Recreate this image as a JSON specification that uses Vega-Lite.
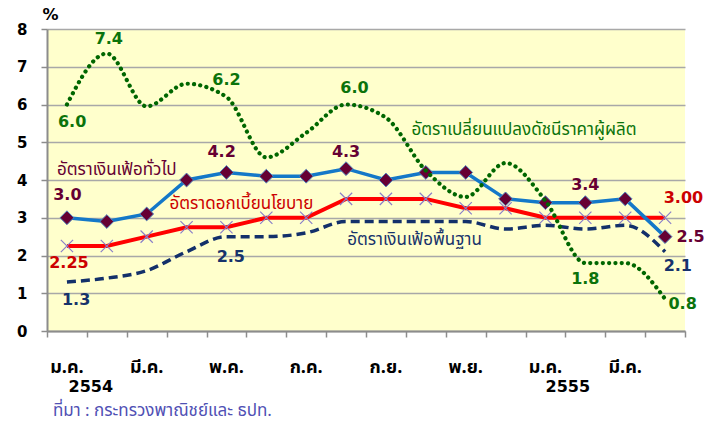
{
  "$schema": "https://vega.github.io/schema/vega-lite/v6.json",
  "width": 638,
  "height": 302,
  "autosize": "none",
  "padding": {"left": 47, "top": 29, "right": 30, "bottom": 94},
  "background": "white",
  "config": {
    "view": {"fill": "#FFFFCC", "stroke": null},
    "font": "DejaVu Sans"
  },
  "datasets": {
    "series": [
      {"m": 0, "s": "h", "v": 3.0}, {"m": 1, "s": "h", "v": 2.9}, {"m": 2, "s": "h", "v": 3.1}, {"m": 3, "s": "h", "v": 4.0},
      {"m": 4, "s": "h", "v": 4.2}, {"m": 5, "s": "h", "v": 4.1}, {"m": 6, "s": "h", "v": 4.1}, {"m": 7, "s": "h", "v": 4.3},
      {"m": 8, "s": "h", "v": 4.0}, {"m": 9, "s": "h", "v": 4.2}, {"m": 10, "s": "h", "v": 4.2}, {"m": 11, "s": "h", "v": 3.5},
      {"m": 12, "s": "h", "v": 3.4}, {"m": 13, "s": "h", "v": 3.4}, {"m": 14, "s": "h", "v": 3.5}, {"m": 15, "s": "h", "v": 2.5},
      {"m": 0, "s": "p", "v": 2.25}, {"m": 1, "s": "p", "v": 2.25}, {"m": 2, "s": "p", "v": 2.5}, {"m": 3, "s": "p", "v": 2.75},
      {"m": 4, "s": "p", "v": 2.75}, {"m": 5, "s": "p", "v": 3.0}, {"m": 6, "s": "p", "v": 3.0}, {"m": 7, "s": "p", "v": 3.5},
      {"m": 8, "s": "p", "v": 3.5}, {"m": 9, "s": "p", "v": 3.5}, {"m": 10, "s": "p", "v": 3.25}, {"m": 11, "s": "p", "v": 3.25},
      {"m": 12, "s": "p", "v": 3.0}, {"m": 13, "s": "p", "v": 3.0}, {"m": 14, "s": "p", "v": 3.0}, {"m": 15, "s": "p", "v": 3.0},
      {"m": 0, "s": "c", "v": 1.3}, {"m": 1, "s": "c", "v": 1.4}, {"m": 2, "s": "c", "v": 1.6}, {"m": 3, "s": "c", "v": 2.1},
      {"m": 4, "s": "c", "v": 2.5}, {"m": 5, "s": "c", "v": 2.5}, {"m": 6, "s": "c", "v": 2.6}, {"m": 7, "s": "c", "v": 2.9},
      {"m": 8, "s": "c", "v": 2.9}, {"m": 9, "s": "c", "v": 2.9}, {"m": 10, "s": "c", "v": 2.9}, {"m": 11, "s": "c", "v": 2.7},
      {"m": 12, "s": "c", "v": 2.8}, {"m": 13, "s": "c", "v": 2.7}, {"m": 14, "s": "c", "v": 2.8}, {"m": 15, "s": "c", "v": 2.1},
      {"m": 0, "s": "g", "v": 6.0}, {"m": 1, "s": "g", "v": 7.35}, {"m": 2, "s": "g", "v": 5.95}, {"m": 3, "s": "g", "v": 6.55},
      {"m": 4, "s": "g", "v": 6.2}, {"m": 5, "s": "g", "v": 4.6}, {"m": 6, "s": "g", "v": 5.25}, {"m": 7, "s": "g", "v": 6.0},
      {"m": 8, "s": "g", "v": 5.65}, {"m": 9, "s": "g", "v": 4.25}, {"m": 10, "s": "g", "v": 3.55}, {"m": 11, "s": "g", "v": 4.45},
      {"m": 12, "s": "g", "v": 3.45}, {"m": 13, "s": "g", "v": 1.8}, {"m": 14, "s": "g", "v": 1.8}, {"m": 15, "s": "g", "v": 0.85}
    ],
    "labels": [
      {"kind": "num", "s": "g", "m": 1.05, "v": 7.74, "text": "7.4"},
      {"kind": "num", "s": "g", "m": 0.13, "v": 5.54, "text": "6.0"},
      {"kind": "num", "s": "g", "m": 4.0, "v": 6.65, "text": "6.2"},
      {"kind": "num", "s": "g", "m": 7.21, "v": 6.43, "text": "6.0"},
      {"kind": "num", "s": "g", "m": 13.0, "v": 1.37, "text": "1.8"},
      {"kind": "num", "s": "g", "m": 15.44, "v": 0.72, "text": "0.8"},
      {"kind": "num", "s": "h", "m": 0.01, "v": 3.6, "text": "3.0"},
      {"kind": "num", "s": "h", "m": 3.88, "v": 4.75, "text": "4.2"},
      {"kind": "num", "s": "h", "m": 7.0, "v": 4.74, "text": "4.3"},
      {"kind": "num", "s": "h", "m": 13.0, "v": 3.87, "text": "3.4"},
      {"kind": "num", "s": "h", "m": 15.64, "v": 2.48, "text": "2.5"},
      {"kind": "num", "s": "p", "m": 0.05, "v": 1.79, "text": "2.25"},
      {"kind": "num", "s": "p", "m": 15.46, "v": 3.52, "text": "3.00"},
      {"kind": "num", "s": "c", "m": 0.23, "v": 0.82, "text": "1.3"},
      {"kind": "num", "s": "c", "m": 4.11, "v": 1.97, "text": "2.5"},
      {"kind": "num", "s": "c", "m": 15.32, "v": 1.72, "text": "2.1"},
      {"kind": "name", "s": "h", "m": -0.25, "v": 4.26, "text": "อัตราเงินเฟ้อทั่วไป"},
      {"kind": "name", "s": "p", "m": 2.57, "v": 3.36, "text": "อัตราดอกเบี้ยนโยบาย"},
      {"kind": "name", "s": "c", "m": 7.03, "v": 2.41, "text": "อัตราเงินเฟ้อพื้นฐาน"},
      {"kind": "name", "s": "g", "m": 8.64, "v": 5.32, "text": "อัตราเปลี่ยนแปลงดัชนีราคาผู้ผลิต"},
      {"kind": "month", "s": "k", "m": 0, "v": -0.98, "text": "ม.ค."},
      {"kind": "month", "s": "k", "m": 2, "v": -0.98, "text": "มี.ค."},
      {"kind": "month", "s": "k", "m": 4, "v": -0.98, "text": "พ.ค."},
      {"kind": "month", "s": "k", "m": 6, "v": -0.98, "text": "ก.ค."},
      {"kind": "month", "s": "k", "m": 8, "v": -0.98, "text": "ก.ย."},
      {"kind": "month", "s": "k", "m": 10, "v": -0.98, "text": "พ.ย."},
      {"kind": "month", "s": "k", "m": 12, "v": -0.98, "text": "ม.ค."},
      {"kind": "month", "s": "k", "m": 14, "v": -0.98, "text": "มี.ค."},
      {"kind": "year", "s": "k", "m": 0.6, "v": -1.48, "text": "2554"},
      {"kind": "year", "s": "k", "m": 12.56, "v": -1.48, "text": "2555"},
      {"kind": "pct", "s": "k", "m": -0.41, "v": 8.37, "text": "%"},
      {"kind": "src", "s": "src", "m": -0.35, "v": -2.12, "text": "ที่มา : กระทรวงพาณิชย์และ ธปท."}
    ]
  },
  "encoding": {
    "x": {
      "field": "m", "type": "quantitative",
      "scale": {"domain": [-0.5, 15.5], "nice": false, "zero": false},
      "axis": {
        "values": [-0.5, 0.5, 1.5, 2.5, 3.5, 4.5, 5.5, 6.5, 7.5, 8.5, 9.5, 10.5, 11.5, 12.5, 13.5, 14.5, 15.5],
        "labels": false, "grid": false, "title": null,
        "ticks": true, "tickSize": 6, "tickColor": "#8C8C8C", "tickWidth": 1.5,
        "domainColor": "#8C8C8C", "domainWidth": 2
      }
    },
    "y": {
      "field": "v", "type": "quantitative",
      "scale": {"domain": [0, 8], "nice": false, "zero": false},
      "axis": {
        "values": [0, 1, 2, 3, 4, 5, 6, 7, 8],
        "grid": true, "gridColor": "#A8A8A8", "gridWidth": 1.5, "title": null,
        "labelFont": "DejaVu Sans", "labelFontWeight": "bold", "labelFontSize": 15, "labelColor": "#000000",
        "labelPadding": 14,
        "ticks": true, "tickSize": 6, "tickColor": "#8C8C8C", "tickWidth": 1.5,
        "domainColor": "#8C8C8C", "domainWidth": 2
      }
    }
  },
  "layer": [
    {
      "data": {"name": "series"},
      "transform": [{"filter": "datum.s == 'c'"}],
      "mark": {"type": "line", "color": "#13306A", "strokeWidth": 3.5, "strokeDash": [9, 5], "interpolate": "monotone"}
    },
    {
      "data": {"name": "series"},
      "transform": [{"filter": "datum.s == 'p'"}],
      "mark": {"type": "line", "color": "#FF0000", "strokeWidth": 4}
    },
    {
      "data": {"name": "series"},
      "transform": [{"filter": "datum.s == 'p'"}],
      "mark": {"type": "point", "shape": "M-1,-1L1,1M-1,1L1,-1", "filled": false, "color": "#8A7FC8", "strokeWidth": 1.2, "size": 150, "opacity": 1}
    },
    {
      "data": {"name": "series"},
      "transform": [{"filter": "datum.s == 'h'"}],
      "mark": {"type": "line", "color": "#1478C8", "strokeWidth": 3.5}
    },
    {
      "data": {"name": "series"},
      "transform": [{"filter": "datum.s == 'h'"}],
      "mark": {"type": "point", "shape": "diamond", "filled": true, "fill": "#660033", "stroke": "#4F81BD", "strokeWidth": 1, "size": 190, "opacity": 1}
    },
    {
      "data": {"name": "series"},
      "transform": [{"filter": "datum.s == 'g'"}],
      "mark": {"type": "line", "color": "#006600", "strokeWidth": 4.2, "strokeDash": [0.1, 6.2], "strokeCap": "round", "interpolate": "monotone"}
    },
    {
      "data": {"name": "labels"},
      "transform": [{"filter": "datum.kind == 'num'"}],
      "mark": {"type": "text", "font": "DejaVu Sans", "fontWeight": "bold", "fontSize": 16, "align": "center", "baseline": "middle"},
      "encoding": {
        "text": {"field": "text"},
        "color": {"field": "s", "type": "nominal", "legend": null,
          "scale": {"domain": ["h", "p", "c", "g", "k", "src"], "range": ["#660033", "#CC0000", "#17336B", "#0B730B", "#000000", "#5050B4"]}}
      }
    },
    {
      "data": {"name": "labels"},
      "transform": [{"filter": "datum.kind == 'name'"}],
      "mark": {"type": "text", "font": "Tahoma, Noto Sans Thai, sans-serif", "fontSize": 17, "align": "left", "baseline": "middle"},
      "encoding": {
        "text": {"field": "text"},
        "color": {"field": "s", "type": "nominal", "legend": null,
          "scale": {"domain": ["h", "p", "c", "g", "k", "src"], "range": ["#660033", "#CC0000", "#17336B", "#0B730B", "#000000", "#5050B4"]}}
      }
    },
    {
      "data": {"name": "labels"},
      "transform": [{"filter": "datum.kind == 'month'"}],
      "mark": {"type": "text", "font": "Tahoma, Noto Sans Thai, sans-serif", "fontWeight": "bold", "fontSize": 18, "align": "center", "baseline": "middle", "color": "#000000"},
      "encoding": {"text": {"field": "text"}}
    },
    {
      "data": {"name": "labels"},
      "transform": [{"filter": "datum.kind == 'year' || datum.kind == 'pct'"}],
      "mark": {"type": "text", "font": "DejaVu Sans", "fontWeight": "bold", "fontSize": 16, "align": "center", "baseline": "middle", "color": "#000000"},
      "encoding": {"text": {"field": "text"}}
    },
    {
      "data": {"name": "labels"},
      "transform": [{"filter": "datum.kind == 'src'"}],
      "mark": {"type": "text", "font": "Tahoma, Noto Sans Thai, sans-serif", "fontSize": 17, "align": "left", "baseline": "middle", "color": "#5050B4"},
      "encoding": {"text": {"field": "text"}}
    }
  ]
}
